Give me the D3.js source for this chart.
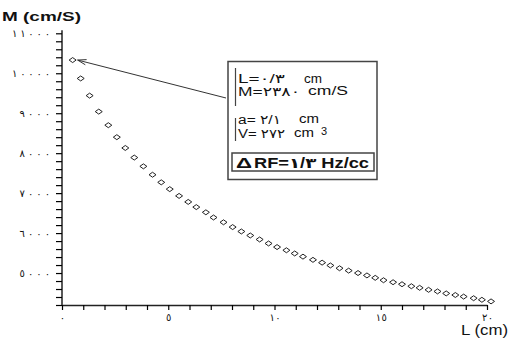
<!DOCTYPE html>
<html>
<head>
<meta charset="utf-8">
<script src="https://cdn.jsdelivr.net/npm/d3@7"></script>
<style>
  body { margin: 0; background: #fff; }
  text { font-family: "Liberation Sans", "DejaVu Sans", sans-serif; fill: #111; }
</style>
</head>
<body>
<div id="chart-area"></div>
<script>
// L (cm) values of the points
var lengths = [0.50, 0.88, 1.30, 1.73, 2.18, 2.58, 2.98, 3.40, 3.83, 4.26,
               4.67, 5.07, 5.51, 5.94, 6.32, 6.77, 7.13, 7.60, 8.03, 8.44,
               8.86, 9.30, 9.72, 10.12, 10.56, 10.95, 11.34, 11.81, 12.24, 12.63,
               13.06, 13.49, 13.93, 14.35, 14.74, 15.13, 15.58, 16.00, 16.44, 16.83,
               17.25, 17.67, 18.08, 18.51, 18.90, 19.37, 19.76, 20.19];
// M (cm/S) values
var mValues = [10330, 9870, 9440, 9040, 8700, 8400, 8130, 7890, 7670, 7460,
               7270, 7100, 6930, 6780, 6650, 6520, 6390, 6270, 6150, 6040,
               5940, 5840, 5740, 5650, 5570, 5490, 5410, 5330, 5260, 5190,
               5120, 5060, 5000, 4940, 4880, 4820, 4770, 4720, 4670, 4630,
               4580, 4540, 4490, 4450, 4410, 4370, 4330, 4290];

var xTicks = d3.range(0, 21, 1);
var xLabels = [0, 5, 10, 15, 20];
var yTicks = d3.range(4200, 11001, 200);
var yLabels = [5000, 6000, 7000, 8000, 9000, 10000, 11000];

// legend rows: label text, its width, unit text, unit x, unit width, baseline
var legendLines = [
  {k: "L=٠/٣", w: 47, u: "cm", ux: 304, uw: 18, y: 83},
  {k: "M=٢٣٨٠", w: 62, u: "cm/S", ux: 308, uw: 40, y: 95.5},
  {k: "a= ٢/١", w: 43, u: "cm", ux: 299, uw: 20, y: 123.5},
  {k: "V= ٢٧٢", w: 47, u: "cm", ux: 294, uw: 20, y: 137.5}
];

var width = 514, height = 341;

// Arabic-Indic digits
function arDigits(n) {
  return String(n).replace(/[0-9]/g, function(c) { return "٠١٢٣٤٥٦٧٨٩"[+c]; });
}

var svg = d3.select("#chart-area").append("svg")
    .attr("width", width)
    .attr("height", height);

var x = d3.scaleLinear()
    .domain([0, 20])
    .range([62, 487]);

var y = d3.scaleLinear()
    .domain([4200, 11000])
    .range([305, 33.3]);

// x axis
var xAxis = d3.axisBottom(x)
    .tickValues(xTicks)
    .tickSize(5)
    .tickSizeOuter(0)
    .tickPadding(4)
    .tickFormat(function(d) { return xLabels.indexOf(d) >= 0 ? arDigits(d) : ""; });

var gx = svg.append("g")
    .attr("transform", "translate(0," + y(4200) + ")")
    .call(xAxis);
gx.select(".domain").attr("stroke", "#222").attr("stroke-width", 1.5);
gx.selectAll(".tick line").attr("stroke", "#000").attr("stroke-width", 1.2);
gx.selectAll("text").style("font-size", "10px").style("font-family", "DejaVu Sans")
    .attr("textLength", function(d) { return String(d).length * 5.5; })
    .attr("lengthAdjust", "spacing");

// y axis
var yAxis = d3.axisLeft(y)
    .tickValues(yTicks)
    .tickSize(6)
    .tickSizeOuter(0)
    .tickPadding(6)
    .tickFormat(function(d) { return yLabels.indexOf(d) >= 0 ? arDigits(d) : ""; });

var gy = svg.append("g")
    .attr("transform", "translate(" + x(0) + ",0)")
    .call(yAxis);
gy.select(".domain").attr("stroke", "#222").attr("stroke-width", 1.5)
    .attr("d", "M0," + (y(11000) - 3) + "V" + y(4200));
gy.selectAll(".tick line").attr("stroke", "#000").attr("stroke-width", 1.2);
gy.selectAll("text").style("font-size", "10px").style("font-family", "DejaVu Sans")
    .attr("textLength", function(d) { return String(d).length * 7.6; })
    .attr("lengthAdjust", "spacing");

// axis titles
svg.append("text")
    .attr("x", 2)
    .attr("y", 21)
    .attr("font-size", "13px")
    .attr("font-weight", "bold")
    .attr("textLength", 79)
    .attr("lengthAdjust", "spacingAndGlyphs")
    .text("M (cm/S)");

svg.append("text")
    .attr("x", 461)
    .attr("y", 335)
    .attr("font-size", "14px")
    .attr("textLength", 47)
    .attr("lengthAdjust", "spacingAndGlyphs")
    .text("L (cm)");

// points (small hollow diamonds)
var points = lengths.map(function(d, i) { return {l: d, m: mValues[i]}; });

svg.selectAll("path.pt")
    .data(points)
  .enter()
    .append("path")
    .attr("class", "pt")
    .attr("d", "M-3.5,0L0,-2.5L3.5,0L0,2.5Z")
    .attr("transform", function(d) { return "translate(" + x(d.l) + "," + y(d.m) + ")"; })
    .attr("fill", "#fff")
    .attr("stroke", "#222")
    .attr("stroke-width", 1);

// arrow from legend to first point
var ax = x(lengths[0]) + 5, ay = y(mValues[0]);
var bx = 226, by = 98;
var ang = Math.atan2(by - ay, bx - ax);
svg.append("line")
    .attr("x1", bx).attr("y1", by)
    .attr("x2", ax).attr("y2", ay)
    .attr("stroke", "#333")
    .attr("stroke-width", 1);
svg.append("path")
    .attr("d", "M" + (ax + 9 * Math.cos(ang - 0.3)) + "," + (ay + 9 * Math.sin(ang - 0.3)) +
               "L" + ax + "," + ay +
               "L" + (ax + 9 * Math.cos(ang + 0.3)) + "," + (ay + 9 * Math.sin(ang + 0.3)))
    .attr("fill", "none")
    .attr("stroke", "#333")
    .attr("stroke-width", 1);

// legend box
var lg = svg.append("g");
lg.append("rect")
    .attr("x", 228).attr("y", 61.5)
    .attr("width", 149).attr("height", 118)
    .attr("fill", "#fff")
    .attr("stroke", "#444")
    .attr("stroke-width", 1.5);
lg.append("line")
    .attr("x1", 235.5).attr("x2", 235.5).attr("y1", 68).attr("y2", 106)
    .attr("stroke", "#444").attr("stroke-width", 1.2);
lg.append("line")
    .attr("x1", 235.5).attr("x2", 235.5).attr("y1", 118).attr("y2", 141)
    .attr("stroke", "#444").attr("stroke-width", 1.2);

legendLines.forEach(function(d) {
  lg.append("text")
      .attr("x", 238).attr("y", d.y)
      .attr("font-size", "12.5px")
      .attr("textLength", d.w)
      .attr("lengthAdjust", "spacingAndGlyphs")
      .text(d.k);
  lg.append("text")
      .attr("x", d.ux).attr("y", d.y - 0.5)
      .attr("font-size", "12.5px")
      .attr("textLength", d.uw)
      .attr("lengthAdjust", "spacingAndGlyphs")
      .text(d.u);
});
lg.append("text")
    .attr("x", 321).attr("y", 135)
    .attr("font-size", "11px")
    .text("3");

lg.append("rect")
    .attr("x", 232).attr("y", 153)
    .attr("width", 142).attr("height", 18)
    .attr("fill", "none")
    .attr("stroke", "#444")
    .attr("stroke-width", 1.5);
lg.append("text")
    .attr("x", 236).attr("y", 168)
    .attr("font-size", "15px")
    .attr("font-weight", "bold")
    .attr("textLength", 16)
    .attr("lengthAdjust", "spacingAndGlyphs")
    .text("Δ");
lg.append("text")
    .attr("x", 254).attr("y", 168)
    .attr("font-size", "14px")
    .attr("font-weight", "bold")
    .attr("textLength", 115)
    .attr("lengthAdjust", "spacingAndGlyphs")
    .text("RF=١/٣ Hz/cc");
</script>
</body>
</html>
